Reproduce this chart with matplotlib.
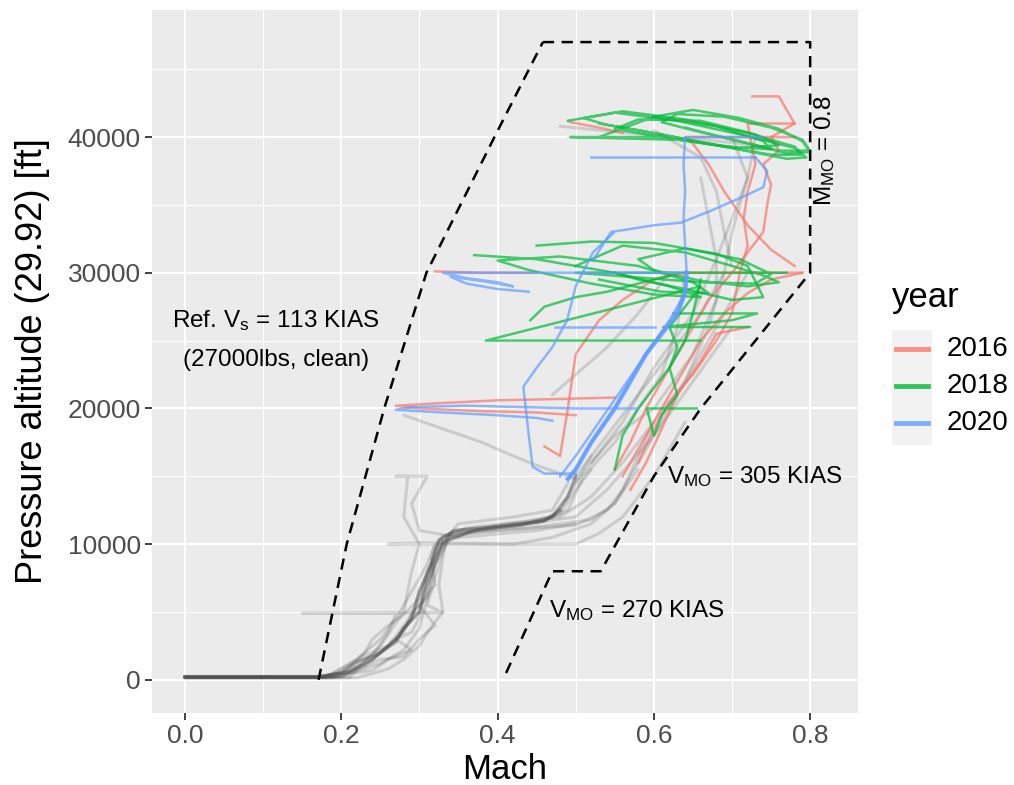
import matplotlib
matplotlib.use("Agg")
import matplotlib.pyplot as plt
from matplotlib.lines import Line2D
from matplotlib.patches import Rectangle

plt.rcParams['font.family'] = ['Liberation Sans', 'DejaVu Sans']
plt.rcParams['mathtext.fontset'] = 'custom'
plt.rcParams['mathtext.rm'] = 'Liberation Sans'
plt.rcParams['mathtext.it'] = 'Liberation Sans'

# colours (ggplot default hue palette)
col = {'2016': '#F8766D', '2018': '#00BA38', '2020': '#619CFF'}
years = ['2016', '2018', '2020']

# ---- flight envelope (dashed) ----
stall_mach = [0.171, 0.207, 0.255, 0.309, 0.396, 0.458]
stall_alt = [0, 10000, 20000, 30000, 40000, 47000]
vmo_mach = [0.458, 0.80, 0.80, 0.73, 0.66, 0.60, 0.532, 0.470, 0.407]
vmo_alt = [47000, 47000, 30000, 25000, 20000, 15000, 8000, 8000, 0]

# ---- gray tracks (no year) ----
gray1_mach = [0.0, 0.17, 0.21, 0.24, 0.27, 0.29, 0.30, 0.315, 0.325, 0.345, 0.40, 0.46, 0.48, 0.50, 0.52]
gray1_alt = [200, 200, 600, 1500, 3000, 4500, 6500, 8500, 10300, 11000, 11300, 11700, 12500, 14500, 16500]
gray2_mach = [0.0, 0.19, 0.23, 0.26, 0.28, 0.30, 0.31, 0.32, 0.33, 0.38, 0.45, 0.49, 0.51, 0.55, 0.58, 0.61, 0.63, 0.64]
gray2_alt = [150, 150, 1000, 2500, 4000, 5500, 7500, 9500, 10600, 11100, 11500, 12500, 15000, 17500, 20000, 22500, 26000, 30000]
gray3_mach = [0.0, 0.20, 0.25, 0.28, 0.30, 0.31, 0.32, 0.33, 0.36, 0.44, 0.52, 0.55, 0.57, 0.60, 0.63, 0.66, 0.69, 0.72]
gray3_alt = [250, 250, 1200, 2200, 3800, 6000, 8500, 10000, 10800, 11200, 11800, 13000, 15000, 18000, 21000, 24000, 27000, 30000]
gray4_mach = [0.0, 0.18, 0.22, 0.25, 0.27, 0.29, 0.31, 0.32, 0.26, 0.30, 0.42, 0.50, 0.53, 0.56, 0.60, 0.64]
gray4_alt = [200, 200, 1500, 3000, 4500, 6500, 8500, 10000, 10000, 10100, 10000, 10000, 10800, 12000, 15000, 19000]
gray5_mach = [0.0, 0.20, 0.24, 0.26, 0.27, 0.15, 0.33, 0.31, 0.32, 0.33, 0.34, 0.42, 0.50, 0.54, 0.60, 0.65, 0.70]
gray5_alt = [200, 200, 1800, 3500, 4900, 4900, 4950, 5500, 7500, 9500, 10800, 11400, 12000, 14000, 18000, 22000, 26000]
gray6_mach = [0.0, 0.21, 0.25, 0.28, 0.29, 0.30, 0.28, 0.285, 0.27, 0.31, 0.29, 0.30, 0.35, 0.45, 0.50]
gray6_alt = [150, 150, 2500, 5000, 8000, 10000, 12000, 15000, 15000, 15000, 13000, 11000, 10500, 11000, 11500]
gray7_mach = [0.0, 0.18, 0.20, 0.23, 0.26, 0.28, 0.29, 0.31, 0.32, 0.34, 0.40, 0.48, 0.52, 0.56, 0.60, 0.64, 0.67, 0.69]
gray7_alt = [180, 180, 800, 1800, 2500, 3500, 5000, 6000, 8500, 10500, 11400, 12000, 13500, 16000, 19000, 22000, 26000, 30000]
gray8_mach = [0.0, 0.17, 0.20, 0.22, 0.25, 0.27, 0.28, 0.30, 0.31, 0.33, 0.37, 0.43, 0.47, 0.49, 0.50]
gray8_alt = [220, 220, 500, 1300, 2000, 2800, 3800, 5000, 7000, 10200, 11000, 11400, 12000, 13500, 15000]
gray9_mach = [0.50, 0.54, 0.58, 0.62, 0.66, 0.69, 0.70, 0.71, 0.72, 0.70]
gray9_alt = [15000, 18000, 21000, 24000, 27000, 30000, 33000, 35000, 37000, 40000]
gray10_mach = [0.50, 0.52, 0.55, 0.60, 0.65, 0.68, 0.68, 0.67, 0.66]
gray10_alt = [14500, 16000, 18000, 20000, 24000, 28000, 31000, 34000, 37000]
gray11_mach = [0.28, 0.33, 0.38, 0.42, 0.45, 0.48, 0.50]
gray11_alt = [19500, 18500, 17500, 16500, 15800, 15200, 14800]
gray12_mach = [0.48, 0.55, 0.62, 0.70, 0.75]
gray12_alt = [40800, 40400, 40000, 39600, 39200]
gray13_mach = [0.0, 0.22, 0.26, 0.28, 0.30, 0.31, 0.33, 0.325, 0.33, 0.335, 0.36, 0.44, 0.48, 0.50, 0.52]
gray13_alt = [150, 150, 800, 1500, 2500, 3500, 5000, 7000, 9000, 10500, 11200, 11700, 12200, 14000, 15500]
gray14_mach = [0.0, 0.19, 0.21, 0.23, 0.24, 0.26, 0.28, 0.30, 0.31, 0.32, 0.33, 0.35, 0.42, 0.47, 0.49]
gray14_alt = [200, 200, 1000, 2000, 3000, 4000, 4800, 6000, 7500, 9000, 10200, 11500, 12000, 12500, 14500]
gray15_mach = [0.0, 0.20, 0.25, 0.28, 0.30, 0.32, 0.30, 0.32, 0.315, 0.32, 0.36, 0.42, 0.47, 0.52, 0.55, 0.58]
gray15_alt = [250, 250, 1500, 1700, 3000, 4000, 5500, 7000, 9000, 10000, 10000, 10000, 10500, 11500, 13000, 15500]
gray16_mach = [0.0, 0.18, 0.24, 0.26, 0.29, 0.27, 0.29, 0.30, 0.305, 0.31, 0.325, 0.34, 0.40, 0.50, 0.54, 0.56, 0.58, 0.60]
gray16_alt = [150, 150, 700, 1500, 2200, 3000, 3500, 4600, 6500, 8000, 9500, 10700, 11000, 11400, 12500, 14000, 16500, 19000]
gray17_mach = [0.52, 0.56, 0.60, 0.65, 0.68, 0.70, 0.72, 0.73]
gray17_alt = [16000, 19000, 23000, 27000, 31000, 34000, 37000, 40000]
gray18_mach = [0.47, 0.50, 0.54, 0.58, 0.62]
gray18_alt = [21000, 22500, 24500, 27000, 30000]
gray19_mach = [0.60, 0.66, 0.68, 0.69, 0.70]
gray19_alt = [40500, 38500, 36000, 33000, 30500]

# ---- 2016 tracks ----
r1_mach = [0.56, 0.58, 0.60, 0.62, 0.64, 0.66, 0.69, 0.72, 0.75, 0.79]
r1_alt = [15000, 17000, 19000, 21000, 23000, 25000, 27000, 28500, 29500, 30000]
r2_mach = [0.55, 0.57, 0.59, 0.61, 0.63, 0.65, 0.67, 0.70, 0.72, 0.74, 0.745, 0.75, 0.74, 0.76, 0.75, 0.78, 0.76, 0.726]
r2_alt = [15500, 17500, 20000, 22000, 24000, 26000, 28000, 30000, 31500, 33000, 35000, 36500, 38000, 39000, 40000, 41000, 43000, 43000]
r3_mach = [0.78, 0.75, 0.72, 0.69, 0.67, 0.65, 0.64, 0.70, 0.78]
r3_alt = [30500, 31700, 33500, 36000, 38000, 39500, 40000, 40000, 40000]
r4_mach = [0.58, 0.60, 0.62, 0.65, 0.68, 0.70, 0.71, 0.72, 0.715, 0.72, 0.73, 0.72, 0.78]
r4_alt = [16000, 18500, 20500, 22500, 25000, 27000, 30000, 32000, 34000, 36000, 38000, 41000, 41000]
r5_mach = [0.55, 0.48, 0.40, 0.33, 0.27, 0.30, 0.38, 0.45, 0.50]
r5_alt = [20800, 20700, 20600, 20400, 20200, 20000, 19800, 19700, 19500]
r6_mach = [0.46, 0.48, 0.49, 0.50, 0.53, 0.56, 0.60, 0.64, 0.79]
r6_alt = [17200, 16500, 20000, 24000, 26500, 28000, 29500, 30000, 30000]
r7_mach = [0.32, 0.38, 0.45]
r7_alt = [30100, 30000, 30000]
r8_mach = [0.57, 0.59, 0.61, 0.63, 0.66, 0.68, 0.72]
r8_alt = [14000, 16000, 18500, 21000, 23500, 25500, 26000]
r9_mach = [0.493, 0.53, 0.56]
r9_alt = [41100, 40700, 40300]

# ---- 2018 tracks ----
g1_mach = [0.49, 0.55, 0.63, 0.71, 0.78, 0.795, 0.77, 0.69, 0.61, 0.54, 0.51, 0.56, 0.64, 0.72, 0.78, 0.79, 0.75, 0.67, 0.59, 0.53]
g1_alt = [41200, 41800, 41200, 40200, 39200, 38500, 38400, 39300, 40200, 40900, 41400, 41900, 41300, 40300, 39300, 38700, 38700, 39500, 40400, 41000]
g2_mach = [0.60, 0.65, 0.71, 0.76, 0.79, 0.80, 0.77, 0.71, 0.65, 0.61, 0.63, 0.69, 0.75, 0.79, 0.80, 0.76, 0.70, 0.64]
g2_alt = [41500, 42000, 41400, 40600, 39700, 38900, 38800, 39700, 40500, 41100, 41700, 41500, 40700, 39800, 39000, 39000, 39800, 40700]
g3_mach = [0.53, 0.60, 0.68, 0.74, 0.75, 0.69, 0.61, 0.55, 0.58, 0.66, 0.73, 0.76, 0.71, 0.63, 0.493, 0.61]
g3_alt = [40000, 41500, 40800, 39700, 39100, 39300, 40000, 40600, 41300, 41200, 40200, 39400, 39200, 39800, 40000, 40000]
g4_mach = [0.37, 0.45, 0.55, 0.62, 0.66, 0.60, 0.52, 0.44, 0.40, 0.48, 0.58, 0.65, 0.67, 0.61, 0.53]
g4_alt = [31300, 31000, 30000, 29000, 28200, 28400, 29200, 30200, 30900, 31200, 30500, 29300, 28500, 28600, 29500]
g5_mach = [0.50, 0.56, 0.64, 0.70, 0.74, 0.76, 0.72, 0.66, 0.60, 0.58, 0.64, 0.71, 0.75, 0.73, 0.66, 0.50, 0.77]
g5_alt = [30500, 32000, 31500, 30500, 29800, 29300, 29000, 29400, 30200, 31000, 31800, 31000, 29900, 29200, 29300, 30000, 30000]
g6_mach = [0.45, 0.52, 0.60, 0.68, 0.72, 0.74, 0.70, 0.64, 0.58, 0.55]
g6_alt = [32000, 32300, 32200, 31400, 30500, 28200, 28000, 28800, 29500, 30000]
g7_mach = [0.442, 0.46, 0.50, 0.54, 0.58, 0.62]
g7_alt = [26500, 27500, 28200, 28600, 29200, 29800]
g8_mach = [0.55, 0.56, 0.58, 0.60, 0.62, 0.63, 0.62, 0.64, 0.66, 0.385, 0.66]
g8_alt = [15500, 18000, 20000, 21500, 23000, 24500, 26000, 27500, 29000, 25000, 25000]
g9_mach = [0.66, 0.65, 0.64, 0.62, 0.63, 0.61, 0.60, 0.591, 0.655]
g9_alt = [29500, 27000, 25000, 23000, 21000, 19500, 18000, 20000, 20000]
g10_mach = [0.625, 0.732, 0.70, 0.612, 0.723]
g10_alt = [27000, 27000, 26500, 26000, 26000]

# ---- 2020 tracks ----
b1_mach = [0.49, 0.50, 0.52, 0.55, 0.57, 0.59, 0.61, 0.63, 0.64, 0.642, 0.64, 0.638, 0.64, 0.638, 0.64, 0.74]
b1_alt = [14800, 15500, 17500, 20000, 22000, 24000, 25500, 27000, 28500, 30000, 32000, 34000, 36000, 38000, 40000, 40000]
b2_mach = [0.52, 0.73]
b2_alt = [38500, 38500]
b3_mach = [0.522, 0.545, 0.60, 0.635, 0.67, 0.71, 0.74, 0.745, 0.73]
b3_alt = [30900, 33000, 33500, 33700, 34500, 35500, 36300, 37500, 38500]
b4_mach = [0.64, 0.50, 0.33, 0.36, 0.40, 0.42, 0.38, 0.34, 0.36, 0.40, 0.44]
b4_alt = [30000, 30000, 30000, 29600, 29300, 29000, 29400, 29700, 29200, 28800, 28600]
b5_mach = [0.58, 0.50, 0.43, 0.36, 0.29, 0.27, 0.33, 0.40, 0.45, 0.47]
b5_alt = [20000, 20000, 20100, 20200, 20100, 19900, 19700, 19500, 19300, 19100]
b6_mach = [0.548, 0.522, 0.50, 0.489, 0.47, 0.45, 0.433, 0.44, 0.445, 0.46, 0.50]
b6_alt = [32900, 31500, 29000, 26500, 24500, 23000, 21600, 18000, 15700, 15200, 15200]
b7_mach = [0.474, 0.601]
b7_alt = [26000, 26000]
b8_mach = [0.48, 0.50, 0.53, 0.56, 0.59, 0.62, 0.64]
b8_alt = [15000, 16500, 19000, 21500, 24000, 26500, 28500]

gray_tracks = [(gray1_mach, gray1_alt), (gray2_mach, gray2_alt), (gray3_mach, gray3_alt),
               (gray4_mach, gray4_alt), (gray5_mach, gray5_alt), (gray6_mach, gray6_alt),
               (gray7_mach, gray7_alt), (gray8_mach, gray8_alt), (gray9_mach, gray9_alt),
               (gray10_mach, gray10_alt), (gray11_mach, gray11_alt), (gray12_mach, gray12_alt),
               (gray13_mach, gray13_alt), (gray14_mach, gray14_alt), (gray15_mach, gray15_alt),
               (gray16_mach, gray16_alt), (gray17_mach, gray17_alt), (gray18_mach, gray18_alt),
               (gray19_mach, gray19_alt)]
year_tracks = {
    '2016': [(r1_mach, r1_alt), (r2_mach, r2_alt), (r3_mach, r3_alt), (r4_mach, r4_alt),
             (r5_mach, r5_alt), (r6_mach, r6_alt), (r7_mach, r7_alt), (r8_mach, r8_alt),
             (r9_mach, r9_alt)],
    '2018': [(g1_mach, g1_alt), (g2_mach, g2_alt), (g3_mach, g3_alt), (g4_mach, g4_alt),
             (g5_mach, g5_alt), (g6_mach, g6_alt), (g7_mach, g7_alt), (g8_mach, g8_alt),
             (g9_mach, g9_alt), (g10_mach, g10_alt)],
    '2020': [(b1_mach, b1_alt), (b2_mach, b2_alt), (b3_mach, b3_alt), (b4_mach, b4_alt),
             (b5_mach, b5_alt), (b6_mach, b6_alt), (b7_mach, b7_alt), (b8_mach, b8_alt)],
}

fig = plt.figure(figsize=(10.14, 7.85), dpi=100)
ax = fig.add_axes([0.150, 0.092, 0.696, 0.895])
ax.set_facecolor('#EBEBEB')

ax.set_xlim(-0.042, 0.861)
ax.set_ylim(-2430, 49350)
ax.set_xticks([0.0, 0.2, 0.4, 0.6, 0.8])
ax.set_xticklabels(['0.0', '0.2', '0.4', '0.6', '0.8'])
ax.set_xticks([0.1, 0.3, 0.5, 0.7], minor=True)
ax.set_yticks([0, 10000, 20000, 30000, 40000])
ax.set_yticklabels(['0', '10000', '20000', '30000', '40000'])
ax.set_yticks([5000, 15000, 25000, 35000, 45000], minor=True)
ax.grid(which='major', color='white', lw=1.5)
ax.grid(which='minor', color='white', lw=0.8)
ax.set_axisbelow(True)
for s in ax.spines.values():
    s.set_visible(False)
ax.tick_params(which='major', length=5, width=1.3, color='#333333', labelsize=19,
               labelcolor='#4D4D4D', pad=3)
ax.tick_params(which='minor', length=0)

for m, a in gray_tracks:
    ax.plot(m, a, color='#4D4D4D', alpha=0.2, lw=2.2, solid_capstyle='round')
# dark core of the common climb profile
ax.plot(gray1_mach[:13], gray1_alt[:13], color='#4D4D4D', alpha=0.45, lw=2.5)
ax.plot(gray8_mach, gray8_alt, color='#4D4D4D', alpha=0.35, lw=2.5)

for y in years:
    for m, a in year_tracks[y]:
        ax.plot(m, a, color=col[y], alpha=0.7, lw=1.8)
# thick overlapping part of the 2020 climb
ax.plot(b1_mach[:10], b1_alt[:10], color=col['2020'], alpha=0.8, lw=3.2)

ax.plot(stall_mach, stall_alt, color='black', lw=1.8, dashes=(4.5, 3))
ax.plot(vmo_mach, vmo_alt, color='black', lw=1.8, dashes=(4.5, 3))

ax.text(0.1165, 26500, r'Ref. V$_{\mathrm{s}}$ = 113 KIAS', fontsize=17.5, ha='center', va='center')
ax.text(0.1165, 23600, '(27000lbs, clean)', fontsize=17.5, ha='center', va='center')
ax.text(0.617, 15000, r'V$_{\mathrm{MO}}$ = 305 KIAS', fontsize=17.5, ha='left', va='center')
ax.text(0.5786, 5100, r'V$_{\mathrm{MO}}$ = 270 KIAS', fontsize=17.5, ha='center', va='center')
ax.text(0.818, 39000, r'M$_{\mathrm{MO}}$ = 0.8', fontsize=17.5, ha='center', va='center', rotation=90)

ax.set_xlabel('Mach', fontsize=25, labelpad=4)
ax.set_ylabel('Pressure altitude (29.92) [ft]', fontsize=26, labelpad=13)

# legend
W, H = 1014.0, 785.0
fig.text(892 / W, 1 - 297 / H, 'year', fontsize=25, ha='left', va='center')
fig.add_artist(Rectangle((892 / W, 1 - 445 / H), 40 / W, 115 / H, transform=fig.transFigure,
                         facecolor='#F2F2F2', edgecolor='none'))
for i, y in enumerate(years):
    yy = 1 - (349 + i * 37) / H
    fig.add_artist(Line2D([896 / W, 928 / W], [yy, yy], transform=fig.transFigure,
                          color=col[y], alpha=0.8, lw=3.5))
    fig.text(947 / W, yy, y, fontsize=20, ha='left', va='center')

fig.savefig('out.png', dpi=100)
